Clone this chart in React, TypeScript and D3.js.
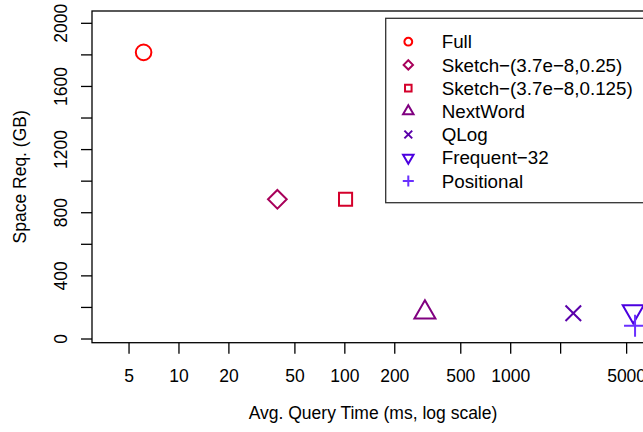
import React from "react";
import * as d3 from "d3";

// Methods compared: average query time (ms) vs. space required (GB)
const methods = [
  "Full",
  "Sketch\u2212(3.7e\u22128,0.25)",
  "Sketch\u2212(3.7e\u22128,0.125)",
  "NextWord",
  "QLog",
  "Frequent\u221232",
  "Positional",
];
const queryTimeMs = [6.12, 39.2, 101, 304, 2385, 5480, 5620];
const spaceGB = [1816, 885, 885, 168, 163, 175, 84];
const symbols = ["circle", "diamond", "square", "triangleUp", "cross", "triangleDown", "plus"];
const colors = ["#FF0000", "#A8005A", "#D4002B", "#800080", "#5A00AA", "#4B00E0", "#6A30FF"];

const xTicks = [5, 10, 20, 50, 100, 200, 500, 1000, 2000, 5000];
const xTickLabels = ["5", "10", "20", "50", "100", "200", "500", "1000", "", "5000"];
const yTicks = [0, 200, 400, 600, 800, 1000, 1200, 1400, 1600, 1800, 2000];
const yTickLabels = ["0", "", "400", "", "800", "", "1200", "", "1600", "", "2000"];

const xTitle = "Avg. Query Time (ms, log scale)";
const yTitle = "Space Req. (GB)";

const W = 643;
const H = 432;
const plot = { left: 92, right: 654, top: 11, bottom: 342.7 };
const FONT = "'Liberation Sans', Arial, Helvetica, sans-serif";

// R-style plotting symbol geometry
const TRC0 = 1.5551203;
const TRC1 = TRC0 * Math.sqrt(3) / 2;
const TRC2 = TRC0 / 2;

function symbolPath(kind: string, R: number): string {
  switch (kind) {
    case "circle":
      return `M${R},0A${R},${R} 0 1,1 ${-R},0A${R},${R} 0 1,1 ${R},0Z`;
    case "diamond": {
      const d = 1.2 * R;
      return `M0,${-d}L${d},0L0,${d}L${-d},0Z`;
    }
    case "square": {
      const s = 0.84 * R;
      return `M${-s},${-s}H${s}V${s}H${-s}Z`;
    }
    case "triangleUp":
      return `M0,${-TRC0 * R}L${TRC1 * R},${TRC2 * R}L${-TRC1 * R},${TRC2 * R}Z`;
    case "triangleDown":
      return `M0,${TRC0 * R}L${TRC1 * R},${-TRC2 * R}L${-TRC1 * R},${-TRC2 * R}Z`;
    case "cross":
      return `M${-R},${-R}L${R},${R}M${-R},${R}L${R},${-R}`;
    case "plus": {
      const p = Math.SQRT2 * R;
      return `M${-p},0H${p}M0,${-p}V${p}`;
    }
    default:
      return "";
  }
}

export default function App() {
  const x = d3.scaleLog().domain([2.99, 7311]).range([plot.left, plot.right]);
  const y = d3.scaleLinear().domain([-23.4, 2078]).range([plot.bottom, plot.top]);
  const tickLen = 11;
  const R = 7.8;

  const legend = { left: 385.7, top: 18.3, bottom: 202.7, symX: 408.3, textX: 441.7, row0: 41.7, step: 23.2 };

  return (
    <svg
      width={W}
      height={H}
      style={{ position: "fixed", left: 0, top: 0, background: "#fff" }}
      fontFamily={FONT}
    >
      <rect x={0} y={0} width={W} height={H} fill="#fff" />

      {/* plot frame */}
      <rect
        x={plot.left}
        y={plot.top}
        width={plot.right - plot.left}
        height={plot.bottom - plot.top}
        fill="none"
        stroke="#000"
        strokeWidth={1.3}
      />

      {/* x axis */}
      {xTicks.map((t, i) => (
        <g key={`xt${i}`}>
          <line x1={x(t)} x2={x(t)} y1={plot.bottom} y2={plot.bottom + tickLen} stroke="#000" strokeWidth={1.3} />
          <text x={x(t)} y={382} textAnchor="middle" fontSize={17.5} fill="#000">
            {xTickLabels[i]}
          </text>
        </g>
      ))}
      <text x={(plot.left + plot.right) / 2} y={419} textAnchor="middle" fontSize={17.5} fill="#000">
        {xTitle}
      </text>

      {/* y axis */}
      {yTicks.map((t, i) => (
        <g key={`yt${i}`}>
          <line x1={plot.left - tickLen} x2={plot.left} y1={y(t)} y2={y(t)} stroke="#000" strokeWidth={1.3} />
          <text
            transform={`translate(67,${y(t)}) rotate(-90)`}
            textAnchor="middle"
            fontSize={17.5}
            fill="#000"
          >
            {yTickLabels[i]}
          </text>
        </g>
      ))}
      <text
        transform={`translate(25.5,${(plot.top + plot.bottom) / 2}) rotate(-90)`}
        textAnchor="middle"
        fontSize={17.5}
        fill="#000"
      >
        {yTitle}
      </text>

      {/* points */}
      {methods.map((m, i) => (
        <path
          key={`pt${i}`}
          d={symbolPath(symbols[i], R)}
          transform={`translate(${x(queryTimeMs[i])},${y(spaceGB[i])})`}
          fill="none"
          stroke={colors[i]}
          strokeWidth={2}
        />
      ))}

      {/* legend */}
      <rect
        x={legend.left}
        y={legend.top}
        width={W + 20 - legend.left}
        height={legend.bottom - legend.top}
        fill="#fff"
        stroke="#333"
        strokeWidth={1.3}
      />
      {methods.map((m, i) => {
        const cy = legend.row0 + i * legend.step;
        return (
          <g key={`lg${i}`}>
            <path
              d={symbolPath(symbols[i], R / 2)}
              transform={`translate(${legend.symX},${cy})`}
              fill="none"
              stroke={colors[i]}
              strokeWidth={2}
            />
            <text x={legend.textX} y={cy + 6.7} fontSize={18.8} fill="#000">
              {m}
            </text>
          </g>
        );
      })}
    </svg>
  );
}
